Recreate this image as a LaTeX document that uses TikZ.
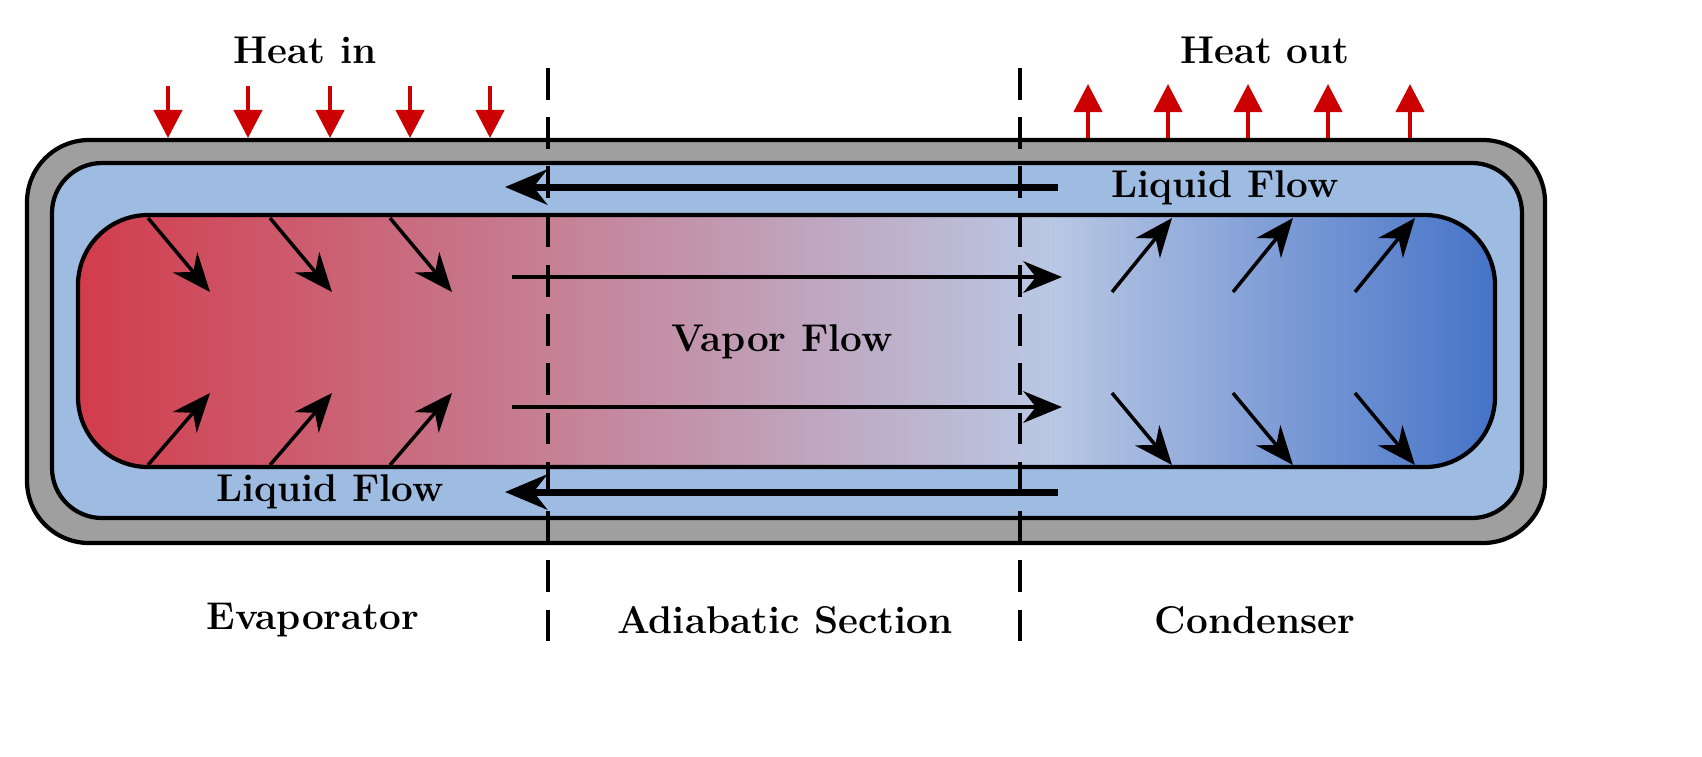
\documentclass[tikz,border=0pt]{standalone}
\usepackage{tikz}
\usetikzlibrary{arrows.meta}
\usetikzlibrary{positioning}

\begin{document}
\begin{tikzpicture}
	[%%%%%%%%%%%%%%%%%%%%%%%%%%%%%%%%%%%%%%%%%%%%%%%%%%%%%%%%%%
		x=0.01cm,y=-0.01cm,>=Stealth,
		label/.style={font=\fontsize{11}{13}\selectfont\bfseries},
		heat/.style={->,draw=red!80!black,line width=1.2pt,-{Triangle[length=8pt,width=8pt]}},
		liquid/.style={line width=2pt,-{Stealth[length=12pt,width=10pt]}},
		flow/.style={line width=1pt,-{Stealth[length=11pt,width=9pt]}},
		divider/.style={dashed,line width=1pt,dash pattern=on 9pt off 5pt}
	]%%%%%%%%%%%%%%%%%%%%%%%%%%%%%%%%%%%%%%%%%%%%%%%%%%%%%%%%%%
	\definecolor{hot}{RGB}{210,60,75}
	\definecolor{mid}{RGB}{185,200,228}
	\definecolor{cold}{RGB}{70,115,200}
	\definecolor{wick}{RGB}{158,188,226}
	\useasboundingbox (0,0) rectangle (1702,756);
	% pipe wall, wick and vapor core
	\draw[line width=1.2pt,fill=gray!75,rounded corners=0.62cm] (27,140) rectangle (1545,543);
	\draw[line width=1.2pt,fill=wick,rounded corners=0.5cm] (52,163) rectangle (1522,518);
	\begin{scope}
		\clip[rounded corners=0.7cm] (78,215) rectangle (1495,467);
		\shade[left color=hot,right color=mid] (78,215) rectangle (1052,467);
		\shade[left color=mid,right color=cold] (1050,215) rectangle (1495,467);
	\end{scope}
	\draw[line width=1.2pt,rounded corners=0.7cm] (78,215) rectangle (1495,467);
	% section dividers
	\coordinate (d1t) at (548,68); \coordinate (d1b) at (548,652);
	\coordinate (d2t) at (1020,68); \coordinate (d2b) at (1020,652);
	\draw[divider] (d1t) -- (d1b);
	\draw[divider] (d2t) -- (d2b);
	% heat arrows
	\foreach \i/\x in {1/168,2/248,3/330,4/410,5/490}{
		\coordinate (hi\i) at (\x,86); \coordinate (hie\i) at (\x,138);
		\draw[heat] (hi\i) -- (hie\i);
	}
	\foreach \i/\x in {1/1088,2/1168,3/1248,4/1328,5/1410}{
		\coordinate (ho\i) at (\x,138); \coordinate (hoe\i) at (\x,84);
		\draw[heat] (ho\i) -- (hoe\i);
	}
	% liquid and vapor flow
	\coordinate (lt1) at (1058,187); \coordinate (lt2) at (505,187);
	\coordinate (lb1) at (1058,492); \coordinate (lb2) at (505,492);
	\draw[liquid] (lt1) -- (lt2);
	\draw[liquid] (lb1) -- (lb2);
	\coordinate (vt1) at (512,277); \coordinate (vt2) at (1062,277);
	\coordinate (vb1) at (512,407); \coordinate (vb2) at (1062,407);
	\draw[flow] (vt1) -- (vt2);
	\draw[flow] (vb1) -- (vb2);
	% evaporation and condensation
	\foreach \i/\x in {1/148,2/270,3/390}{
		\coordinate (et\i) at (\x,218); \coordinate (ete\i) at (\x+62,292);
		\coordinate (eb\i) at (\x,465); \coordinate (ebe\i) at (\x+62,393);
		\draw[flow] (et\i) -- (ete\i);
		\draw[flow] (eb\i) -- (ebe\i);
	}
	\foreach \i/\x in {1/1112,2/1233,3/1355}{
		\coordinate (ct\i) at (\x,292); \coordinate (cte\i) at (\x+60,218);
		\coordinate (cb\i) at (\x,393); \coordinate (cbe\i) at (\x+60,465);
		\draw[flow] (ct\i) -- (cte\i);
		\draw[flow] (cb\i) -- (cbe\i);
	}
	% labels
	\node[label] (heatin) at (305,50) {Heat in};
	\node[label] (heatout) at (1265,50) {Heat out};
	\node[label] (liqtop) at (1225,188) {Liquid Flow};
	\node[label] (liqbot) at (330,492) {Liquid Flow};
	\node[label] (vapor) at (782,342) {Vapor Flow};
	\node[label] (evap) at (313,620) {Evaporator};
	\node[label] (adiab) at (785,620) {Adiabatic Section};
	\node[label] (cond) at (1255,620) {Condenser};
\end{tikzpicture}
\end{document}
